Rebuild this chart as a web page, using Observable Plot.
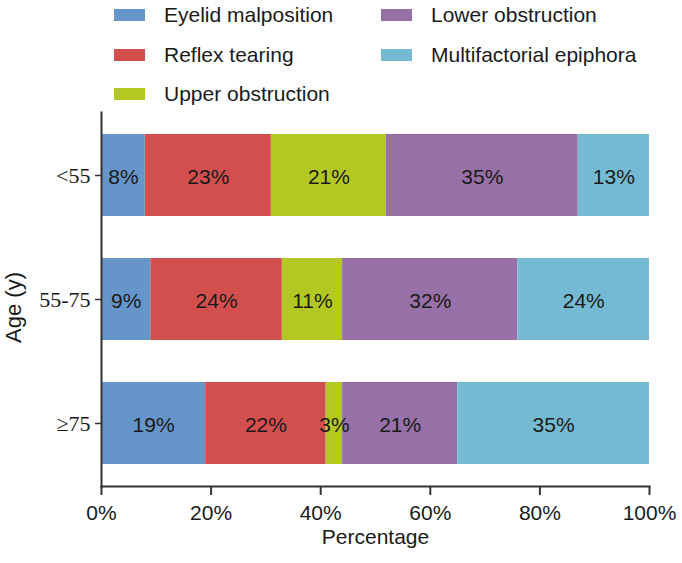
<!DOCTYPE html>
<html>
<head>
<meta charset="utf-8">
<script src="https://cdn.jsdelivr.net/npm/d3@7"></script>
<script src="https://cdn.jsdelivr.net/npm/@observablehq/plot@0.6"></script>
<style>
  html, body { margin: 0; padding: 0; background: #fff; }
  #wrap { position: relative; width: 682px; height: 563px; font-family: Arial, "Liberation Sans", sans-serif; }
  #legend { position: absolute; left: 0; top: 0; width: 682px; height: 110px; }
  .item { position: absolute; display: flex; align-items: center; height: 24px; font-size: 21px; color: #1a1a1a; white-space: nowrap; }
  .sw { width: 31px; height: 12px; margin-right: 19px; }
  #chart { position: absolute; left: 0; top: 0; }
</style>
</head>
<body>
<div id="wrap">
  <div id="chart"></div>
  <div id="legend"></div>
</div>
<script>
const ageGroups = ["<55", "55-75", "≥75"];
const causes = ["Eyelid malposition", "Reflex tearing", "Upper obstruction", "Lower obstruction", "Multifactorial epiphora"];
const colors = ["#6595C9", "#D34F4D", "#B4C824", "#9670A6", "#75BAD3"];
const valuesUnder55 = [8, 23, 21, 35, 13];
const values55to75 = [9, 24, 11, 32, 24];
const values75plus = [19, 22, 3, 21, 35];
const xTicks = [0, 20, 40, 60, 80, 100];

const seriesByAge = [valuesUnder55, values55to75, values75plus];
const data = [];
ageGroups.forEach((age, i) => {
  causes.forEach((cause, j) => {
    data.push({age, cause, value: seriesByAge[i][j]});
  });
});

const chart = Plot.plot({
  width: 682,
  height: 563,
  marginTop: 112,
  marginBottom: 77,
  marginLeft: 101,
  marginRight: 33,
  style: {fontFamily: "Arial, 'Liberation Sans', sans-serif", background: "#fff", color: "#1a1a1a"},
  x: {domain: [0, 100]},
  y: {domain: ageGroups, paddingInner: 0.336, paddingOuter: 0.168},
  color: {domain: causes, range: colors},
  marks: [
    Plot.barX(data, Plot.stackX({x: "value", y: "age", z: "cause", fill: "cause", order: causes})),
    Plot.text(data, Plot.stackX({x: "value", y: "age", z: "cause", order: causes, text: d => d.value + "%", fontSize: 21, dy: 2, fill: "#1a1a1a"})),
    Plot.axisX({ticks: xTicks, tickFormat: d => d + "%", tickSize: 9, tickPadding: 10, fontSize: 21, stroke: "#333", strokeWidth: 2, label: null}),
    Plot.axisY({tickSize: 6, tickPadding: 5, fontSize: 22, fontFamily: "'Liberation Serif', 'Times New Roman', serif", stroke: "#333", strokeWidth: 1.5, label: null}),
    Plot.frame({anchor: "bottom", stroke: "#333", strokeWidth: 2}),
    Plot.frame({anchor: "left", stroke: "#333", strokeWidth: 2}),
    Plot.text(["Percentage"], {frameAnchor: "bottom", dy: 57, fontSize: 21, fill: "#1a1a1a"}),
    Plot.text(["Age (y)"], {frameAnchor: "left", textAnchor: "middle", dx: -88, dy: 8, rotate: -90, fontSize: 22, fill: "#1a1a1a"})
  ]
});
document.getElementById("chart").appendChild(chart);

const legend = document.getElementById("legend");
const pos = [
  {x: 114, y: 15}, {x: 114, y: 54.5}, {x: 114, y: 93.5},
  {x: 381, y: 15}, {x: 381, y: 54.5}
];
causes.forEach((c, i) => {
  const el = document.createElement("div");
  el.className = "item";
  el.style.left = pos[i].x + "px";
  el.style.top = (pos[i].y - 12) + "px";
  const sw = document.createElement("div");
  sw.className = "sw";
  sw.style.background = colors[i];
  el.appendChild(sw);
  const t = document.createElement("span");
  t.textContent = c;
  el.appendChild(t);
  legend.appendChild(el);
});
</script>
</body>
</html>
